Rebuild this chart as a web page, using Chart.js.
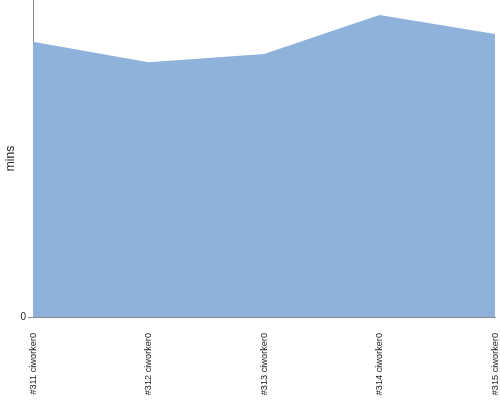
<!DOCTYPE html>
<html>
<head>
<meta charset="utf-8">
<script src="https://cdn.jsdelivr.net/npm/chart.js@4"></script>
<style>
  html, body { margin: 0; padding: 0; background: #fff; }
  #wrap { width: 500px; height: 400px; }
</style>
</head>
<body>
<div id="wrap"><canvas id="c" width="500" height="400"></canvas></div>
<script>
// build runs, minutes per run
const builds = ['#311 ciworker0', '#312 ciworker0', '#313 ciworker0', '#314 ciworker0', '#315 ciworker0'];
const mins = [86.8, 80.4, 83.0, 95.3, 89.3];
const yTicks = [0];
const yMax = 100;

const axisGrey = '#8a8a8a';
const textCol = '#222222';

new Chart(document.getElementById('c'), {
  type: 'line',
  data: {
    labels: builds,
    datasets: [{
      label: 'mins',
      data: mins,
      fill: 'origin',
      backgroundColor: '#8fb2db',
      borderWidth: 0,
      borderColor: '#8fb2db',
      pointRadius: 0,
      tension: 0,
    }],
  },
  options: {
    responsive: false,
    animation: false,
    layout: { padding: { top: 0, right: 5, left: 0, bottom: 0 } },
    plugins: { legend: { display: false }, tooltip: { enabled: false } },
    scales: {
      x: {
        offset: false,
        grid: { display: true, drawOnChartArea: false, drawTicks: false, color: axisGrey },
        border: { display: true, color: axisGrey },
        ticks: {
          autoSkip: false,
          minRotation: 90,
          maxRotation: 90,
          padding: 16,
          color: textCol,
          font: { family: 'Liberation Sans', size: 9.2 },
        },
        afterFit: (s) => {
          s.height = 83;
          s.paddingLeft = 0;
          s.paddingRight = 0;
        },
      },
      y: {
        min: 0,
        max: yMax,
        afterBuildTicks: (s) => { s.ticks = yTicks.map((v) => ({ value: v })); },
        grid: { drawOnChartArea: false, drawTicks: true, tickLength: 5, color: axisGrey },
        border: { display: true, color: axisGrey },
        ticks: {
          padding: 2,
          color: textCol,
          font: { family: 'Liberation Sans', size: 10 },
        },
        title: {
          display: true,
          text: 'mins',
          color: textCol,
          padding: { top: 3, bottom: 0 },
          font: { family: 'Liberation Sans', size: 12 },
        },
        afterFit: (s) => {
          s.width = 33;
          s.paddingTop = 0;
          s.paddingBottom = 0;
        },
      },
    },
  },
});
</script>
</body>
</html>
